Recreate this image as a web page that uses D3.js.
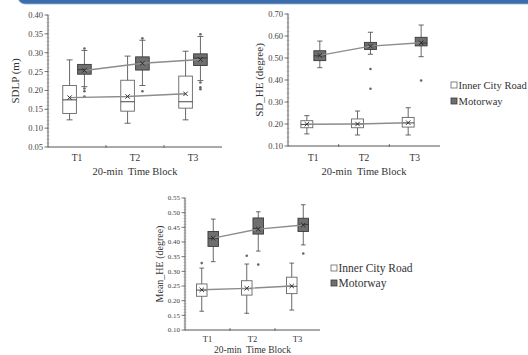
<!DOCTYPE html>
<html>
<head>
<meta charset="utf-8">
<script src="https://cdn.jsdelivr.net/npm/d3@7"></script>
<style>
    body { margin: 0; background: #fff; }
    svg { display: block; }
    svg text { font-family: 'Liberation Serif', 'Times New Roman', Times, serif; }
</style>
</head>
<body>
<svg id="chart" width="528" height="355"></svg>
<script>
const blocks = ['T1', 'T2', 'T3']
const seriesNames = ['Inner City Road', 'Motorway']

// box stats per block: [min, q1, median, q3, max, mean]
const sdlpInner = [[0.122, 0.139, 0.175, 0.213, 0.281, 0.181], [0.113, 0.145, 0.170, 0.227, 0.291, 0.184], [0.122, 0.153, 0.170, 0.238, 0.304, 0.191]]
const sdlpMotor = [[0.210, 0.243, 0.255, 0.269, 0.306, 0.253], [0.213, 0.254, 0.272, 0.289, 0.333, 0.272], [0.226, 0.266, 0.286, 0.297, 0.343, 0.282]]
const sdlpInnerOut = [[], [], []]
const sdlpMotorOut = [[0.311, 0.205, 0.198, 0.184], [0.338, 0.198], [0.349, 0.221, 0.208, 0.203]]

const sdheInner = [[0.155, 0.183, 0.198, 0.215, 0.238, 0.199], [0.150, 0.183, 0.200, 0.223, 0.259, 0.200], [0.150, 0.186, 0.205, 0.230, 0.274, 0.206]]
const sdheMotor = [[0.456, 0.488, 0.510, 0.533, 0.577, 0.512], [0.517, 0.539, 0.553, 0.571, 0.617, 0.554], [0.506, 0.555, 0.568, 0.594, 0.650, 0.569]]
const sdheInnerOut = [[], [], []]
const sdheMotorOut = [[], [0.450, 0.360], [0.398]]

const meanheInner = [[0.164, 0.215, 0.236, 0.257, 0.311, 0.237], [0.157, 0.219, 0.241, 0.268, 0.325, 0.242], [0.168, 0.224, 0.249, 0.280, 0.328, 0.250]]
const meanheMotor = [[0.333, 0.385, 0.412, 0.436, 0.478, 0.413], [0.369, 0.427, 0.446, 0.482, 0.503, 0.444], [0.390, 0.436, 0.460, 0.481, 0.527, 0.458]]
const meanheInnerOut = [[0.328], [0.353], []]
const meanheMotorOut = [[], [0.323], [0.361]]

const panels = [
    { x0: 48, x1: 222, yTop: 15, yBot: 147, domain: [0.05, 0.40], step: 0.05, minor: 0.01,
      yTitle: 'SDLP (m)', yTitleX: 15, tickFont: 8.5, titleFont: 11, tLabelY: 161, xTitleY: 175,
      inner: sdlpInner, motor: sdlpMotor, innerOut: sdlpInnerOut, motorOut: sdlpMotorOut },
    { x0: 288, x1: 440, yTop: 14, yBot: 146, domain: [0.10, 0.70], step: 0.10, minor: 0.02,
      yTitle: 'SD_HE (degree)', yTitleX: 259, tickFont: 8.5, titleFont: 11, tLabelY: 161, xTitleY: 175,
      inner: sdheInner, motor: sdheMotor, innerOut: sdheInnerOut, motorOut: sdheMotorOut,
      legend: { x: 451, y: 85, font: 10.6, gap: 16 } },
    { x0: 185, x1: 320, yTop: 198, yBot: 330, domain: [0.10, 0.55], step: 0.05, minor: 0.01,
      yTitle: 'Mean_HE (degree)', yTitleX: 159, tickFont: 7, titleFont: 10, tLabelY: 342, xTitleY: 353,
      inner: meanheInner, motor: meanheMotor, innerOut: meanheInnerOut, motorOut: meanheMotorOut,
      legend: { x: 331, y: 268, font: 11.5, gap: 15 } }
]

const fills = ['#ffffff', '#6f6f6f']
const strokes = ['#666', '#3a3a3a']
const axisColor = '#555'

const svg = d3.select('#chart')

// blue banner at the top edge
svg.append('rect')
    .attr('x', 18).attr('y', -12).attr('width', 530).attr('height', 16).attr('rx', 7)
    .attr('fill', '#3c6dab').attr('stroke', '#8fb0d8').attr('stroke-width', 0.8)

panels.forEach(drawPanel)

function drawPanel(p) {
    const g = svg.append('g')
    const y = d3.scaleLinear().domain(p.domain).range([p.yBot, p.yTop])
    const x = d3.scaleBand().domain(blocks).range([p.x0, p.x1])
    const bw = x.bandwidth()
    const boxW = bw * 0.235
    const off = bw * 0.128
    const cx = (b, s) => x(b) + bw / 2 + (s === 0 ? -off : off)

    // y axis with major and minor ticks
    const nMajor = Math.round((p.domain[1] - p.domain[0]) / p.step)
    const major = d3.range(nMajor + 1).map(i => p.domain[0] + i * p.step)
    const nMinor = Math.round((p.domain[1] - p.domain[0]) / p.minor)
    const minor = d3.range(nMinor + 1).map(i => p.domain[0] + i * p.minor)

    g.append('line').attr('x1', p.x0).attr('x2', p.x0).attr('y1', p.yTop).attr('y2', p.yBot)
        .attr('stroke', axisColor).attr('stroke-width', 1)
    g.selectAll('.minor').data(minor).join('line')
        .attr('x1', p.x0 - 1.5).attr('x2', p.x0 + 1.5)
        .attr('y1', d => y(d)).attr('y2', d => y(d))
        .attr('stroke', '#999').attr('stroke-width', 0.6)
    g.selectAll('.major').data(major).join('line')
        .attr('x1', p.x0 - 3.5).attr('x2', p.x0)
        .attr('y1', d => y(d)).attr('y2', d => y(d))
        .attr('stroke', axisColor).attr('stroke-width', 0.8)
    g.selectAll('.ylab').data(major).join('text')
        .attr('x', p.x0 - 5).attr('y', d => y(d)).attr('dy', '0.35em')
        .attr('text-anchor', 'end').attr('font-size', p.tickFont).attr('fill', '#444')
        .text(d => d3.format('.2f')(d))

    // x axis
    g.append('line').attr('x1', p.x0).attr('x2', p.x1).attr('y1', p.yBot).attr('y2', p.yBot)
        .attr('stroke', axisColor).attr('stroke-width', 1)
    g.selectAll('.xtick').data(blocks.slice(1)).join('line')
        .attr('x1', d => x(d)).attr('x2', d => x(d))
        .attr('y1', p.yBot - 2).attr('y2', p.yBot + 1)
        .attr('stroke', axisColor).attr('stroke-width', 0.8)
    g.selectAll('.xlab').data(blocks).join('text')
        .attr('x', d => x(d) + bw / 2).attr('y', p.tLabelY)
        .attr('text-anchor', 'middle').attr('font-size', p.titleFont - 1.5).attr('fill', '#333')
        .text(d => d)
    g.append('text')
        .attr('x', (p.x0 + p.x1) / 2).attr('y', p.xTitleY)
        .attr('text-anchor', 'middle').attr('font-size', p.titleFont - 0.5).attr('fill', '#333')
        .attr('xml:space', 'preserve')
        .text('20-min  Time Block')
    g.append('text')
        .attr('transform', `translate(${p.yTitleX},${(p.yTop + p.yBot) / 2}) rotate(-90)`)
        .attr('dy', '0.35em').attr('text-anchor', 'middle')
        .attr('font-size', p.titleFont).attr('fill', '#333')
        .text(p.yTitle)

    const sets = [p.inner, p.motor]
    const outs = [p.innerOut, p.motorOut]

    sets.forEach((stats, s) => {
        const bg = g.append('g')
        const box = bg.selectAll('g').data(blocks).join('g')
        // whiskers
        box.append('line')
            .attr('x1', (b) => cx(b, s)).attr('x2', (b) => cx(b, s))
            .attr('y1', (b, i) => y(stats[i][0])).attr('y2', (b, i) => y(stats[i][4]))
            .attr('stroke', '#444').attr('stroke-width', 0.8)
        box.selectAll('.cap').data((b, i) => [[b, stats[i][0]], [b, stats[i][4]]]).join('line')
            .attr('x1', d => cx(d[0], s) - boxW * 0.22).attr('x2', d => cx(d[0], s) + boxW * 0.22)
            .attr('y1', d => y(d[1])).attr('y2', d => y(d[1]))
            .attr('stroke', '#444').attr('stroke-width', 0.8)
        // box
        box.append('rect')
            .attr('x', b => cx(b, s) - boxW / 2).attr('width', boxW)
            .attr('y', (b, i) => y(stats[i][3]))
            .attr('height', (b, i) => y(stats[i][1]) - y(stats[i][3]))
            .attr('fill', fills[s]).attr('stroke', strokes[s]).attr('stroke-width', 0.9)
        // median
        box.append('line')
            .attr('x1', b => cx(b, s) - boxW / 2).attr('x2', b => cx(b, s) + boxW / 2)
            .attr('y1', (b, i) => y(stats[i][2])).attr('y2', (b, i) => y(stats[i][2]))
            .attr('stroke', '#333').attr('stroke-width', 0.9)
        // outliers
        const pts = blocks.flatMap((b, i) => outs[s][i].map(v => [b, v]))
        bg.selectAll('circle').data(pts).join('circle')
            .attr('cx', d => cx(d[0], s)).attr('cy', d => y(d[1])).attr('r', 1.3)
            .attr('fill', '#666')
    })

    // mean lines and markers on top
    sets.forEach((stats, s) => {
        const line = d3.line().x((d, i) => cx(blocks[i], s)).y(d => y(d[5]))
        g.append('path').attr('d', line(stats))
            .attr('fill', 'none').attr('stroke', '#8c8c8c').attr('stroke-width', 1.4)
        g.append('g').selectAll('path').data(stats).join('path')
            .attr('d', (d, i) => {
                const px = cx(blocks[i], s), py = y(d[5]), r = 2.2
                return `M${px - r},${py - r}L${px + r},${py + r}M${px - r},${py + r}L${px + r},${py - r}`
            })
            .attr('stroke', '#222').attr('stroke-width', 0.9)
    })

    // legend
    if (p.legend) {
        const lg = g.append('g').attr('transform', `translate(${p.legend.x},${p.legend.y})`)
        const item = lg.selectAll('g').data(seriesNames).join('g')
            .attr('transform', (d, i) => `translate(0,${i * p.legend.gap})`)
        item.append('rect')
            .attr('x', 0).attr('y', -3).attr('width', 6).attr('height', 6)
            .attr('fill', (d, i) => fills[i]).attr('stroke', (d, i) => strokes[i]).attr('stroke-width', 0.8)
        item.append('text')
            .attr('x', 7.5).attr('y', 0).attr('dy', '0.35em')
            .attr('font-size', p.legend.font).attr('fill', '#333')
            .text(d => d)
    }
}
</script>
</body>
</html>
